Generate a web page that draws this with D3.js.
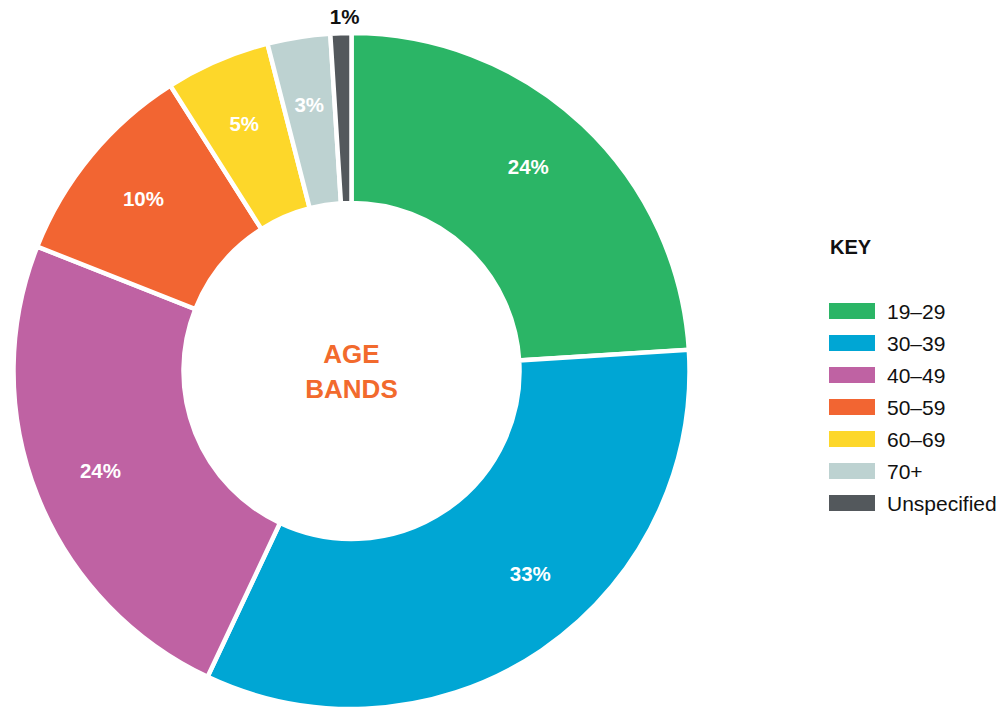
<!DOCTYPE html>
<html><head><meta charset="utf-8">
<script src="https://cdn.jsdelivr.net/npm/d3@7"></script>
<style>body{margin:0;background:#fff;font-family:"Liberation Sans",Arial,sans-serif}</style>
</head><body><svg id="c" width="1001" height="710"></svg>
<script>
const categories = ["19–29","30–39","40–49","50–59","60–69","70+","Unspecified"];
const values = [24,33,24,10,5,3,1];
const labels = ["24%","33%","24%","10%","5%","3%","1%"];
const colors = ["#2bb566","#00a6d4","#bf62a3","#f26532","#fdd72a","#bdd2d1","#53585c"];

const svg = d3.select("#c");
const cx = 351.5, cy = 371, rOuter = 338, rInner = 168;
const g = svg.append("g").attr("transform",`translate(${cx},${cy})`);
const pie = d3.pie().sort(null).value(d=>d)(values);
const arc = d3.arc().innerRadius(rInner).outerRadius(rOuter);

g.selectAll("path").data(pie).join("path")
  .attr("d",arc).attr("fill",(d,i)=>colors[i])
  .attr("stroke","#fff").attr("stroke-width",4.5).attr("stroke-linejoin","miter");

// label placement: mid-angle of each slice, with small hand-tuned nudges as in the original layout
const nudge = [-0.04, -0.127, 0, 0, 0, 0, 0.012];
function labelPos(d,i){
  const a = (d.startAngle + d.endAngle)/2 + nudge[i];
  const r = i===6 ? 354 : 270;
  return [Math.sin(a)*r, -Math.cos(a)*r];
}
g.selectAll("text.lab").data(pie).join("text").attr("class","lab")
  .attr("transform",(d,i)=>`translate(${labelPos(d,i)})`)
  .attr("text-anchor","middle").attr("dy","0.36em")
  .attr("fill",(d,i)=>i===6?"#111":"#fff")
  .attr("font-weight","bold").attr("font-size","20.5px")
  .text((d,i)=>labels[i]);

g.append("text").attr("text-anchor","middle").attr("y",-8).attr("fill","#f26a2d")
  .attr("font-weight","bold").attr("font-size","26px").text("AGE");
g.append("text").attr("text-anchor","middle").attr("y",26.5).attr("fill","#f26a2d")
  .attr("font-weight","bold").attr("font-size","26px").text("BANDS");

const lg = svg.append("g");
lg.append("text").attr("x",830).attr("y",254).attr("font-weight","bold")
  .attr("font-size","20px").attr("fill","#111").text("KEY");
const y = d3.scaleBand().domain(categories).range([303,527]);
const rows = lg.selectAll("g.row").data(categories).join("g").attr("class","row")
  .attr("transform",d=>`translate(829,${y(d)})`);
rows.append("rect").attr("width",46).attr("height",16).attr("fill",(d,i)=>colors[i]);
rows.append("text").attr("x",58).attr("y",8).attr("dy","0.36em")
  .attr("font-size","21px").attr("fill","#111").text(d=>d);
</script></body></html>
